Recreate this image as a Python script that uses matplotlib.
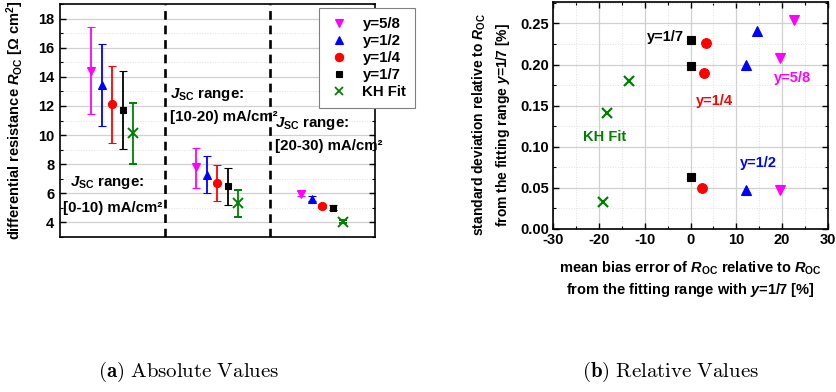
import matplotlib
matplotlib.use("Agg")
import matplotlib.pyplot as plt
from matplotlib.lines import Line2D
from matplotlib.ticker import MultipleLocator

plt.rcParams['font.family'] = ['Liberation Sans', 'DejaVu Sans']
plt.rcParams['font.weight'] = 'bold'
plt.rcParams['mathtext.fontset'] = 'custom'
plt.rcParams['mathtext.rm'] = 'Liberation Sans:bold'
plt.rcParams['mathtext.bf'] = 'Liberation Sans:bold'
plt.rcParams['mathtext.it'] = 'Liberation Sans:bold:italic'

# ---------------- data ----------------
series_labels = ['y=5/8', 'y=1/2', 'y=1/4', 'y=1/7', 'KH Fit']
series_colors = ['#FF00FF', '#0000FF', '#FF0000', '#000000', '#008000']
series_markers = ['v', '^', 'o', 's', 'x']

range_labels = ['[0-10) mA/cm²', '[10-20) mA/cm²', '[20-30) mA/cm²']

# absolute values: mean and error-bar ends for each J_SC range (rows) and series (cols)
abs_mean = [
    [14.37, 13.45, 12.12, 11.72, 10.16],
    [7.80, 7.24, 6.69, 6.50, 5.33],
    [5.98, 5.62, 5.12, 5.00, 4.04],
]
abs_upper = [
    [17.40, 16.25, 14.76, 14.41, 12.23],
    [9.12, 8.57, 7.93, 7.77, 6.21],
    [6.15, 5.80, 5.28, 5.20, 4.14],
]
abs_lower = [
    [11.43, 10.60, 9.47, 9.03, 8.02],
    [6.37, 6.00, 5.45, 5.22, 4.39],
    [5.80, 5.45, 4.96, 4.82, 3.94],
]

# relative values: mean bias error [%] and standard deviation, per series (3 ranges)
rel_mbe = {
    'y=5/8': [22.6, 19.5, 19.5],
    'y=1/2': [14.5, 12.1, 12.0],
    'y=1/4': [3.3, 2.9, 2.4],
    'y=1/7': [0.0, 0.0, 0.0],
    'KH Fit': [-13.5, -18.3, -19.0],
}
rel_std = {
    'y=5/8': [0.254, 0.2085, 0.0475],
    'y=1/2': [0.2405, 0.1996, 0.0475],
    'y=1/4': [0.2266, 0.1896, 0.0495],
    'y=1/7': [0.2295, 0.1976, 0.0636],
    'KH Fit': [0.1805, 0.1413, 0.0326],
}

# ---------------- figure ----------------
fig = plt.figure(figsize=(8.37, 3.92), dpi=100)
W, H = 837, 392

def axrect(x0, y0, x1, y1):
    return [x0 / W, 1 - y1 / H, (x1 - x0) / W, (y1 - y0) / H]

fs = 10.5

# ---------- left panel ----------
ax = fig.add_axes(axrect(60, 4, 375, 237))
offsets = [0.3, 0.4, 0.5, 0.6, 0.7]
msizes_l = [6.0, 6.0, 5.8, 4.5, 6.5]
for g in range(3):
    for s in range(5):
        x = g + offsets[s]
        m = abs_mean[g][s]
        ax.errorbar([x], [m],
                    yerr=[[m - abs_lower[g][s]], [abs_upper[g][s] - m]],
                    fmt=series_markers[s], color=series_colors[s],
                    ms=msizes_l[s], mew=1.4 if series_markers[s] == 'x' else 0.8,
                    elinewidth=1.3, capsize=3.2, capthick=1.3, zorder=3)
for xd in [1, 2]:
    ax.axvline(xd, color='black', lw=1.9, ls=(0, (3.3, 2.2)), zorder=2)
ax.set_xlim(0, 3)
ax.set_ylim(3, 19)
ax.set_xticks([])
ax.yaxis.set_major_locator(MultipleLocator(2))
ax.yaxis.set_minor_locator(MultipleLocator(1))
ax.set_yticks(range(4, 19, 2))
ax.tick_params(axis='y', which='both', direction='in', right=True, labelsize=fs)
ax.tick_params(axis='y', which='major', length=4, width=1, pad=4)
ax.tick_params(axis='y', which='minor', length=2, width=0.8)
ax.grid(axis='y', which='major', color='#d0d0d0', lw=0.9, zorder=0)
ax.grid(axis='y', which='minor', color='#e0e0e0', lw=0.7, ls=':', zorder=0)
ax.set_axisbelow(True)
for sp in ax.spines.values():
    sp.set_linewidth(1.2)
ax.set_ylabel('differential resistance $R_{\\mathrm{OC}}$ [Ω cm$^{\\mathrm{2}}$]',
              fontsize=fs, fontweight='bold')
ax.yaxis.label.set_va('center')
ax.yaxis.set_label_coords(-0.143, 0.5)

txt_pos = [(0.095, 6.76, 4.97, 0.03), (1.048, 12.78, 11.24, 1.048), (2.048, 10.76, 9.24, 2.048)]
for g, (xj, yj, yr, xr) in enumerate(txt_pos):
    ax.text(xj, yj, '$J_{\\mathrm{SC}}$ range:', fontsize=10.8, fontweight='bold',
            ha='left', va='center', zorder=4)
    ax.text(xr, yr, range_labels[g], fontsize=10.8, fontweight='bold',
            ha='left', va='center', zorder=4)

handles = [Line2D([], [], ls='none', marker=series_markers[s], color=series_colors[s],
                  ms=6 if series_markers[s] != 's' else 5,
                  mew=1.3 if series_markers[s] == 'x' else 0.8)
           for s in range(5)]
leg = ax.legend(handles, series_labels, loc='upper left', bbox_to_anchor=(0.822, 0.983),
                fontsize=fs + 0.3, frameon=True, fancybox=False, framealpha=1,
                edgecolor='#808080', borderpad=0.6, labelspacing=0.2,
                handlelength=1.5, handletextpad=0.8, borderaxespad=0)
leg.get_frame().set_linewidth(0.8)
leg.set_zorder(10)

# ---------- right panel ----------
ax2 = fig.add_axes(axrect(553, 2, 828, 229))
msizes_r = [7.2, 7.2, 7.0, 5.6, 7.2]
for s, lab in enumerate(series_labels):
    ax2.plot(rel_mbe[lab], rel_std[lab], ls='none', marker=series_markers[s],
             color=series_colors[s], ms=msizes_r[s],
             mew=1.6 if series_markers[s] == 'x' else 0.8, zorder=3)
ax2.set_xlim(-30, 30)
ax2.set_ylim(0, 0.276)
ax2.xaxis.set_major_locator(MultipleLocator(10))
ax2.xaxis.set_minor_locator(MultipleLocator(5))
ax2.yaxis.set_major_locator(MultipleLocator(0.05))
ax2.yaxis.set_minor_locator(MultipleLocator(0.025))
ax2.yaxis.set_major_formatter(matplotlib.ticker.FormatStrFormatter('%.2f'))
ax2.xaxis.set_major_formatter(matplotlib.ticker.FuncFormatter(lambda v, p: '%d' % round(v)))
ax2.tick_params(which='both', direction='in', top=True, right=True, labelsize=fs)
ax2.tick_params(which='major', length=4, width=1, pad=3)
ax2.tick_params(which='minor', length=2, width=0.8)
ax2.grid(which='major', color='#d0d0d0', lw=0.9, zorder=0)
ax2.grid(which='minor', color='#e0e0e0', lw=0.7, ls=':', zorder=0)
ax2.set_axisbelow(True)
for sp in ax2.spines.values():
    sp.set_linewidth(1.2)
ax2.set_xlabel('mean bias error of $R_{\\mathrm{OC}}$ relative to $R_{\\mathrm{OC}}$\n'
               'from the fitting range with $y$=1/7 [%]',
               fontsize=fs, fontweight='bold', linespacing=1.35)
ax2.xaxis.label.set_va('center')
ax2.xaxis.set_label_coords(0.5, -0.222)
ax2.set_ylabel('standard deviation relative to $R_{\\mathrm{OC}}$\n'
               'from the fitting range $y$=1/7 [%]',
               fontsize=10, fontweight='bold', linespacing=1.4)
ax2.yaxis.label.set_va('center')
ax2.yaxis.set_label_coords(-0.224, 0.46)

ann = [('y=1/7', -1.5, 0.233, 'right', '#000000'),
       ('y=1/4', 5.2, 0.156, 'center', '#FF0000'),
       ('KH Fit', -18.7, 0.112, 'center', '#008000'),
       ('y=1/2', 14.9, 0.080, 'center', '#0000FF'),
       ('y=5/8', 22.3, 0.183, 'center', '#FF00FF')]
for t, x, y, ha, c in ann:
    ax2.text(x, y, t, color=c, fontsize=fs, fontweight='bold', ha=ha, va='center')

# ---------- captions ----------
fig.text(189 / W, 1 - 372 / H, r'$(\mathbf{a})\ \mathrm{Absolute\ Values}$',
         math_fontfamily='cm', fontsize=15, ha='center', va='center')
fig.text(671 / W, 1 - 372 / H, r'$(\mathbf{b})\ \mathrm{Relative\ Values}$',
         math_fontfamily='cm', fontsize=15, ha='center', va='center')

fig.savefig('out.png', dpi=100)
